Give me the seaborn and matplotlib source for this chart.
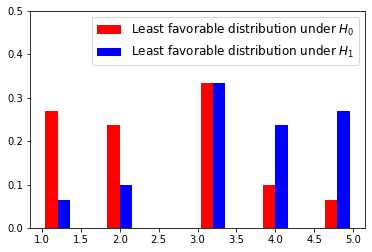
import matplotlib
matplotlib.use("Agg")
import matplotlib.pyplot as plt
from matplotlib.patches import Patch
import seaborn as sns
import pandas as pd

support = [1, 2, 3, 4, 5]
p_h0 = [0.27, 0.237, 0.333, 0.1, 0.065]
p_h1 = [0.065, 0.1, 0.333, 0.237, 0.27]
labels = ["Least favorable distribution under $H_0$",
          "Least favorable distribution under $H_1$"]
colors = ["red", "blue"]

df = pd.DataFrame({
    "x": support + support,
    "w": p_h0 + p_h1,
    "dist": ["H0"] * len(support) + ["H1"] * len(support),
})

fig, ax = plt.subplots(figsize=(372 / 72, 252 / 72), dpi=72)
fig.subplots_adjust(left=30 / 372, right=365 / 372, top=1 - 11 / 252, bottom=1 - 228 / 252)

sns.histplot(data=df, x="x", weights="w", hue="dist", hue_order=["H0", "H1"],
             palette={"H0": colors[0], "H1": colors[1]},
             bins=10, binrange=(1, 5), multiple="dodge", shrink=0.8,
             stat="count", common_norm=False, alpha=1, edgecolor="none",
             linewidth=0, legend=False, ax=ax)

ax.set_xlabel("")
ax.set_ylabel("")
ax.set_ylim(0, 0.5)
ax.set_xticks([1.0, 1.5, 2.0, 2.5, 3.0, 3.5, 4.0, 4.5, 5.0])
ax.set_yticks([0.0, 0.1, 0.2, 0.3, 0.4, 0.5])

handles = [Patch(facecolor=c, edgecolor="none") for c in colors]
ax.legend(handles, labels, loc="upper right", fontsize=12)

fig.savefig("out.png", dpi=72)
